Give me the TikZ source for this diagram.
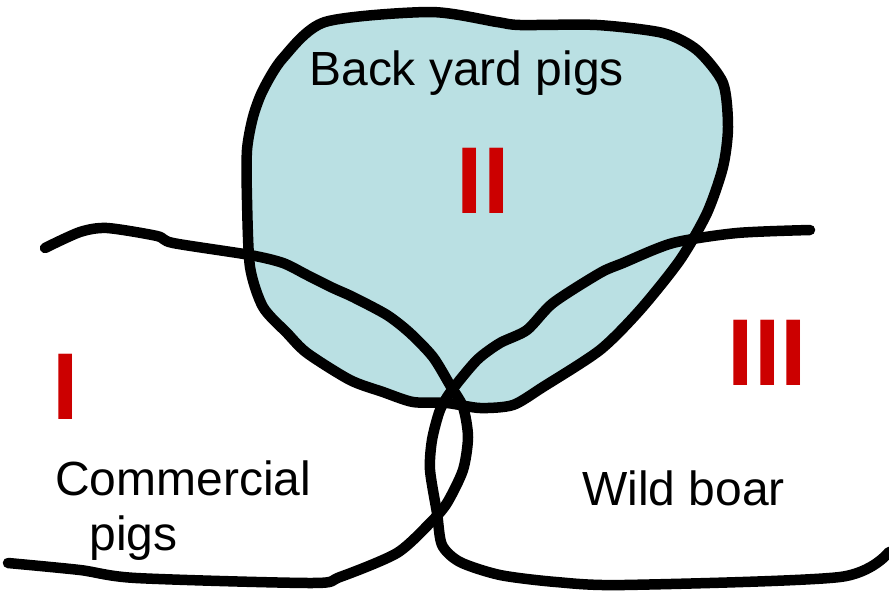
\documentclass[tikz,border=0pt]{standalone}
\usepackage{fontspec}
\setmainfont{Liberation Sans}
\usepackage{tikz}
\usetikzlibrary{positioning}
\definecolor{yardblue}{RGB}{186,224,227}
\definecolor{numred}{RGB}{204,0,0}

\begin{document}
\begin{tikzpicture}[x=0.02cm,y=-0.02cm,
    border/.style={line width=0.21cm,line join=round,line cap=round},
    lbl/.style={inner sep=0pt,font=\fontsize{27.3pt}{32pt}\selectfont},
    numeral/.style={inner sep=0pt,text=numred,font=\fontsize{54pt}{60pt}\selectfont\bfseries}]
    \useasboundingbox (0,0) rectangle (889,592);
    % back yard region
    \draw[border,fill=yardblue] plot[smooth cycle,tension=0.45] coordinates {
      (325,22) (430,12) (497,22) (520,25) (597,25) (663,33) (697,50) (723,83)
      (728,127) (723,167) (707,213) (680,260) (640,310) (600,350) (543,387)
      (513,405) (480,408) (447,403) (413,402) (383,392) (350,380) (307,353)
      (287,333) (263,307) (250,267) (247,200) (247,150) (253,117) (263,90) (283,58)};
    % commercial boundary
    \draw[border] plot[smooth,tension=0.45] coordinates {
      (45,248) (80,232) (107,228) (157,236) (173,243) (250,255) (283,263)
      (307,275) (333,288) (353,297) (387,315) (410,333) (433,357) (450,385)
      (463,407) (468,437) (463,470) (447,503) (431,522) (397,553) (340,577)
      (312,583) (136,578) (80,570) (8,563)};
    % wild boar boundary
    \draw[border] plot[smooth,tension=0.45] coordinates {
      (810,230) (737,233) (673,243) (623,263) (600,273) (553,303) (527,330)
      (500,343) (477,360) (452,390) (440,410) (432,440) (430,470) (437,513)
      (442,545) (460,562) (500,575) (556,582) (624,585) (840,577) (889,552)};
    % labels
    \node[lbl,anchor=base west] (backyard) at (309,85) {Back yard pigs};
    \node[lbl,anchor=base west] (commercial) at (55,495) {Commercial};
    \node[lbl,anchor=base west] (pigs) at (89,550) {pigs};
    \node[lbl,anchor=base west] (wildboar) at (582,505) {Wild boar};
    \node[numeral,anchor=base] (one) at (65.5,419) {I};
    \node[numeral,anchor=base] (two) at (483,213) {II};
    \node[numeral,anchor=base] (three) at (767.5,385) {III};
\end{tikzpicture}
\end{document}
